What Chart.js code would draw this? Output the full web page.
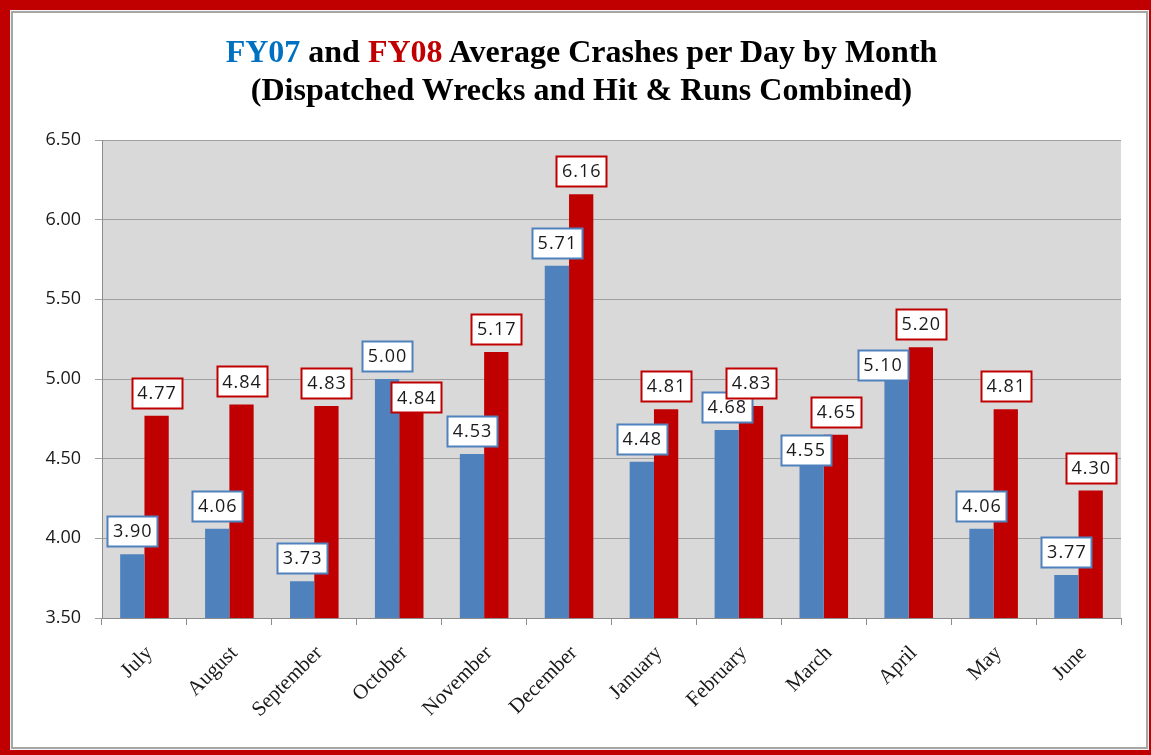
<!DOCTYPE html>
<html>
<head>
<meta charset="utf-8">
<script src="https://cdn.jsdelivr.net/npm/chart.js@4.4.1/dist/chart.umd.min.js"></script>
<style>
    html, body { margin: 0; padding: 0; }
    body { width: 1151px; height: 755px; background: #c00000; position: relative; overflow: hidden; }
    .frame {
        position: absolute; left: 10px; top: 10px; width: 1139px; height: 740px;
        box-sizing: border-box; background: #fff;
        border: 1px solid #f4f4f4; box-shadow: inset 0 0 0 2px #a6a6a6;
    }
    #chart { position: absolute; left: 0; top: 0; }
    .title {
        position: absolute; left: 12px; width: 1139px; top: 32px;
        text-align: center; font-family: "Liberation Serif", "Times New Roman", serif;
        font-weight: bold; font-size: 32px; line-height: 38px; color: #000;
    }
    .fy07 { color: #0070c0; }
    .fy08 { color: #c00000; }
</style>
</head>
<body>
<div class="frame"></div>
<canvas id="chart" width="1151" height="755"></canvas>
<div class="title">
    <span class="fy07">FY07</span> and <span class="fy08">FY08</span> Average Crashes per Day by Month<br>
    (Dispatched Wrecks and Hit &amp; Runs Combined)
</div>

<script>
// data
const months = ['July', 'August', 'September', 'October', 'November', 'December',
                'January', 'February', 'March', 'April', 'May', 'June'];
const fy07 = [3.90, 4.06, 3.73, 5.00, 4.53, 5.71, 4.48, 4.68, 4.55, 5.10, 4.06, 3.77];
const fy08 = [4.77, 4.84, 4.83, 4.84, 5.17, 6.16, 4.81, 4.83, 4.65, 5.20, 4.81, 4.30];
const yTicks = [3.50, 4.00, 4.50, 5.00, 5.50, 6.00, 6.50];

const BLUE = '#4f81bd';
const RED = '#c00000';

// grey plot area behind the bars
const plotBg = {
    id: 'plotBg',
    beforeDraw(chart) {
        const a = chart.chartArea;
        const ctx = chart.ctx;
        ctx.save();
        ctx.fillStyle = '#d9d9d9';
        ctx.fillRect(a.left, a.top, a.right - a.left, a.bottom - a.top);
        ctx.restore();
    }
};

// boxed value labels above each bar (a few were hand moved in the original)
const boxLabels = {
    id: 'boxLabels',
    afterDatasetsDraw(chart, args, opts) {
        const ctx = chart.ctx;
        ctx.save();
        ctx.font = '18px "Open Sans"';
        ctx.letterSpacing = '1px';
        ctx.textAlign = 'center';
        ctx.textBaseline = 'middle';
        chart.data.datasets.forEach((ds, di) => {
            chart.getDatasetMeta(di).data.forEach((bar, i) => {
                const nudge = opts.nudges[di + '-' + i] || [0, 0];
                const cx = bar.x + nudge[0];
                const cy = bar.y - opts.gap - opts.h / 2 + nudge[1];
                const x = Math.round(cx - opts.w / 2) + 0.5;
                const y = Math.round(cy - opts.h / 2) + 0.5;
                ctx.fillStyle = '#fff';
                ctx.fillRect(x, y, opts.w, opts.h);
                ctx.lineWidth = 2;
                ctx.strokeStyle = ds.backgroundColor;
                ctx.strokeRect(x, y, opts.w, opts.h);
                ctx.fillStyle = '#1a1a1a';
                ctx.fillText(ds.data[i].toFixed(2), cx + 0.5, cy + 1);
            });
        });
        ctx.restore();
    }
};

function drawChart() {
    const ctx = document.getElementById('chart').getContext('2d');
    new Chart(ctx, {
        type: 'bar',
        data: {
            labels: months,
            datasets: [
                { label: 'FY07', data: fy07, backgroundColor: BLUE },
                { label: 'FY08', data: fy08, backgroundColor: RED }
            ]
        },
        options: {
            responsive: false,
            animation: false,
            categoryPercentage: 0.572,
            barPercentage: 1,
            layout: { padding: { left: 20, right: 30, top: 140, bottom: 0 } },
            plugins: {
                legend: { display: false },
                tooltip: { enabled: false },
                boxLabels: {
                    w: 50, h: 30, gap: 8,
                    nudges: { '1-3': [5, 16], '0-8': [-6, 22], '0-9': [-14, 25] }
                }
            },
            scales: {
                x: {
                    grid: { display: true, drawOnChartArea: false, color: '#8c8c8c', tickLength: 7, offset: true },
                    border: { color: '#8c8c8c' },
                    ticks: {
                        autoSkip: false, minRotation: 45, maxRotation: 45, padding: 16, labelOffset: 5,
                        color: '#1a1a1a', font: { family: '"Liberation Serif"', size: 21 }
                    },
                    afterFit: s => { s.height = 137; }
                },
                y: {
                    min: 3.5, max: 6.5,
                    afterBuildTicks: s => { s.ticks = yTicks.map(v => ({ value: v })); },
                    grid: { color: '#a0a0a0', tickLength: 7 },
                    border: { color: '#8c8c8c' },
                    ticks: {
                        padding: 14, color: '#1a1a1a',
                        font: { family: '"Open Sans"', size: 18 },
                        callback: v => Number(v).toFixed(2)
                    },
                    afterFit: s => { s.width = 82; }
                }
            }
        },
        plugins: [plotBg, boxLabels]
    });
}

Promise.all([
    document.fonts.load('18px "Open Sans"'),
    document.fonts.load('21px "Liberation Serif"'),
    document.fonts.load('bold 32px "Liberation Serif"')
]).then(drawChart, drawChart);
</script>
</body>
</html>
